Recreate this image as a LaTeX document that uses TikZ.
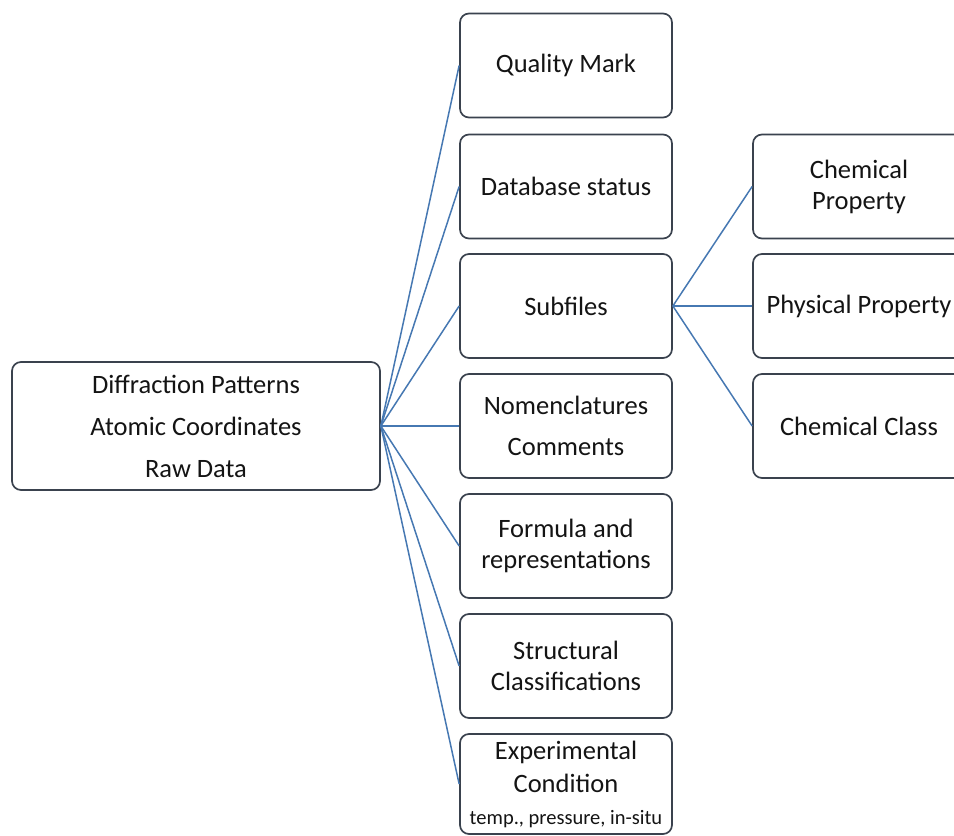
\documentclass[tikz,border=0pt]{standalone}
\usepackage{fontspec}
\setmainfont{Carlito}
\definecolor{boxc}{RGB}{58,66,78}
\definecolor{linec}{RGB}{70,120,178}
\definecolor{txtc}{RGB}{20,20,20}
\tikzset{
  box/.style={draw=boxc, line width=1.7pt, rounded corners=9pt, fill=white,
    minimum width=212pt, minimum height=104pt, inner sep=0pt, align=center,
    text=txtc, font=\fontsize{26.5}{31}\selectfont},
  conn/.style={draw=linec, line width=1.5pt}
}
\begin{document}
\begin{tikzpicture}[x=1pt,y=-1pt]
\useasboundingbox (0,0) rectangle (954,836);
% source
\node[box, minimum width=368pt, minimum height=128pt] (src) at (196,426)
  {Diffraction Patterns\\[11pt]Atomic Coordinates\\[11pt]Raw Data};
% middle column
\node[box] (qm) at (566,65.5) {Quality Mark};
\node[box] (db) at (566,186.5) {Database status};
\node[box] (sub) at (566,306) {Subfiles};
\node[box] (nom) at (566,426) {Nomenclatures\\[10pt]Comments};
\node[box] (form) at (566,546) {Formula and\\representations};
\node[box] (str) at (566,666) {Structural\\Classifications};
\node[box, minimum height=100pt] (exp) at (566,784)
  {Experimental\\[2pt]Condition\\[1pt]{\fontsize{20.5}{26}\selectfont temp., pressure, in-situ}};
% right column
\node[box] (chp) at (859,186.5) {Chemical\\Property};
\node[box] (php) at (859,306) {Physical Property};
\node[box] (chc) at (859,426) {Chemical Class};
% connectors
\foreach \t in {qm,db,sub,nom,form,str,exp}
  \draw[conn] (src.east) -- (\t.west);
\foreach \t in {chp,php,chc}
  \draw[conn] (sub.east) -- (\t.west);
\end{tikzpicture}
\end{document}
